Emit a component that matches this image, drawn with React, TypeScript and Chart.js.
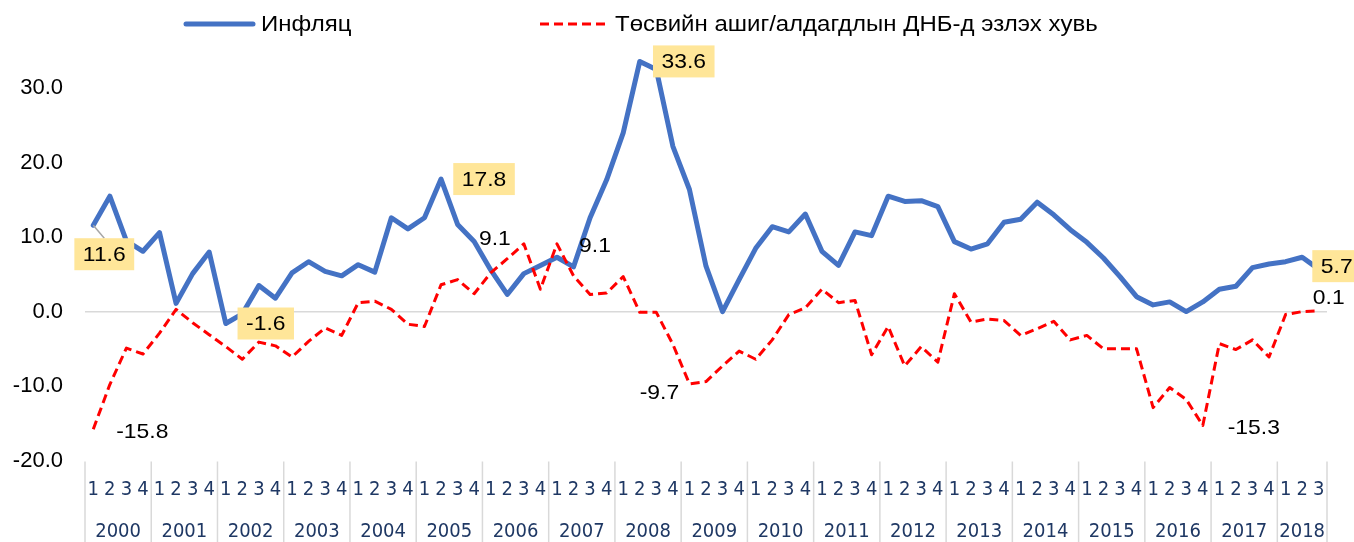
import React, { useEffect, useRef } from 'react';
import { Chart, registerables } from 'chart.js';

Chart.register(...registerables);

const YEARS = ['2000','2001','2002','2003','2004','2005','2006','2007','2008','2009','2010','2011','2012','2013','2014','2015','2016','2017','2018'];
const QUARTERS_PER_YEAR = [4,4,4,4,4,4,4,4,4,4,4,4,4,4,4,4,4,4,3];
const QUARTER_NAMES = ['1','2','3','4'];

const INFLATION = [
  11.6, 15.5, 9.5, 8.1, 10.6, 1.1, 5.1, 8.0, -1.6, -0.3, 3.5, 1.8,
  5.2, 6.7, 5.4, 4.8, 6.3, 5.3, 12.6, 11.1, 12.6, 17.8, 11.7, 9.4,
  5.6, 2.3, 5.1, 6.2, 7.3, 6.0, 12.6, 17.7, 24.0, 33.6, 32.5, 22.2,
  16.4, 6.1, 0.0, 4.3, 8.5, 11.4, 10.7, 13.1, 8.1, 6.2, 10.7, 10.2,
  15.5, 14.8, 14.9, 14.1, 9.4, 8.4, 9.1, 12.0, 12.4, 14.7, 13.0, 11.0,
  9.3, 7.2, 4.7, 2.0, 0.9, 1.3, 0.0, 1.3, 3.0, 3.4, 5.9, 6.4,
  6.7, 7.3, 5.7
];

const BUDGET = [
  -15.8, -9.8, -4.9, -5.7, -2.9, 0.3, -1.5, -3.1, -4.7, -6.4, -4.1, -4.6,
  -6.1, -4.0, -2.2, -3.2, 1.2, 1.4, 0.3, -1.7, -2.0, 3.6, 4.3, 2.4,
  5.2, 7.1, 9.1, 3.0, 9.1, 4.8, 2.3, 2.5, 4.7, -0.1, -0.1, -4.4,
  -9.7, -9.4, -7.3, -5.3, -6.4, -3.8, -0.4, 0.5, 3.0, 1.2, 1.5, -5.8,
  -2.0, -7.3, -4.7, -6.8, 2.4, -1.4, -1.0, -1.2, -3.2, -2.3, -1.3, -3.8,
  -3.2, -5.0, -5.0, -5.0, -12.9, -10.2, -11.8, -15.3, -4.3, -5.1, -3.8, -6.1,
  -0.4, 0.0, 0.1
];

const Y_TICKS = [-20, -10, 0, 10, 20, 30];
const LEGEND_INFLATION = 'Инфляц';
const LEGEND_BUDGET = 'Төсвийн ашиг/алдагдлын ДНБ-д эзлэх хувь';

// label annotations: point index + offset of the label centre from the point
const INFLATION_LABELS = [
  { i: 0, dx: 11, dy: 29, leader: true },
  { i: 8, dx: 40, dy: 0 },
  { i: 21, dx: 43, dy: 0 },
  { i: 33, dx: 44, dy: 0 },
  { i: 74, dx: 18, dy: -3 },
];
const BUDGET_LABELS = [
  { i: 0, dx: 49, dy: 2 },
  { i: 26, dx: -29, dy: -6 },
  { i: 28, dx: 38, dy: 1.5 },
  { i: 36, dx: -30, dy: 8 },
  { i: 67, dx: 51, dy: 1.5 },
  { i: 74, dx: 10, dy: -14 },
];

const BLUE = '#4472C4';
const RED = '#FF0000';
const NAVY = '#1f3864';
const TEXT_STRETCH = 1.09;
const LABEL_FONT = '21px "Liberation Sans", Arial, sans-serif';
const AXIS_FONT_FAMILY = '"DejaVu Sans Condensed", "DejaVu Sans", sans-serif';

const QUARTER_LABELS: string[] = [];
YEARS.forEach((y, yi) => {
  for (let q = 0; q < QUARTERS_PER_YEAR[yi]; q++) QUARTER_LABELS.push(QUARTER_NAMES[q]);
});

function stretchedText(ctx: CanvasRenderingContext2D, txt: string, x: number, y: number) {
  ctx.save();
  ctx.translate(x, y);
  ctx.scale(TEXT_STRETCH, 1);
  ctx.fillText(txt, 0, 0);
  ctx.restore();
}

const decorPlugin = {
  id: 'decor',
  afterDatasetsDraw(chart: any) {
    const ctx = chart.ctx;
    const xs = chart.scales.x;
    const h = chart.height;
    const half = (xs.getPixelForValue(1) - xs.getPixelForValue(0)) / 2;
    const axisTop = chart.chartArea.bottom;

    // year separators and year labels
    ctx.save();
    ctx.strokeStyle = '#d9d9d9';
    ctx.lineWidth = 1.5;
    let start = 0;
    const bounds: number[] = [];
    YEARS.forEach((y, yi) => {
      const n = QUARTERS_PER_YEAR[yi];
      const left = xs.getPixelForValue(start) - half;
      const right = xs.getPixelForValue(start + n - 1) + half;
      bounds.push(left);
      if (yi === YEARS.length - 1) bounds.push(right);
      ctx.fillStyle = NAVY;
      ctx.font = '20px ' + AXIS_FONT_FAMILY;
      ctx.textAlign = 'center';
      ctx.textBaseline = 'middle';
      ctx.fillText(y, (left + right) / 2, axisTop + 71);
      start += n;
    });
    bounds.forEach((bx) => {
      ctx.beginPath();
      ctx.moveTo(bx, axisTop + 1);
      ctx.lineTo(bx, h);
      ctx.stroke();
    });
    ctx.restore();

    // data labels
    const m0 = chart.getDatasetMeta(0);
    const m1 = chart.getDatasetMeta(1);
    ctx.save();
    ctx.font = LABEL_FONT;
    ctx.textAlign = 'center';
    ctx.textBaseline = 'middle';
    INFLATION_LABELS.forEach((l) => {
      const p = m0.data[l.i];
      const txt = INFLATION[l.i].toFixed(1);
      const w = ctx.measureText(txt).width * TEXT_STRETCH + 17;
      const bh = 32;
      const cx = p.x + l.dx;
      const cy = p.y + l.dy;
      if (l.leader) {
        ctx.strokeStyle = '#a6a6a6';
        ctx.lineWidth = 1.5;
        ctx.beginPath();
        ctx.moveTo(p.x, p.y);
        ctx.lineTo(p.x + 11, cy - bh / 2);
        ctx.stroke();
      }
      ctx.fillStyle = '#FFE699';
      ctx.fillRect(cx - w / 2, cy - bh / 2, w, bh);
      ctx.fillStyle = '#000';
      stretchedText(ctx, txt, cx, cy + 1);
    });
    BUDGET_LABELS.forEach((l) => {
      const p = m1.data[l.i];
      const txt = BUDGET[l.i].toFixed(1);
      ctx.fillStyle = '#000';
      stretchedText(ctx, txt, p.x + l.dx, p.y + l.dy + 1);
    });
    ctx.restore();

    // legend
    ctx.save();
    ctx.lineWidth = 5;
    ctx.lineCap = 'round';
    ctx.strokeStyle = BLUE;
    ctx.beginPath();
    ctx.moveTo(186, 24);
    ctx.lineTo(253, 24);
    ctx.stroke();
    ctx.lineWidth = 3;
    ctx.lineCap = 'butt';
    ctx.strokeStyle = RED;
    ctx.setLineDash([9, 5]);
    ctx.beginPath();
    ctx.moveTo(540, 24);
    ctx.lineTo(608, 24);
    ctx.stroke();
    ctx.setLineDash([]);
    ctx.fillStyle = '#000';
    ctx.font = '22px "Liberation Sans", Arial, sans-serif';
    ctx.textAlign = 'left';
    ctx.textBaseline = 'middle';
    stretchedText(ctx, LEGEND_INFLATION, 261, 25);
    stretchedText(ctx, LEGEND_BUDGET, 615, 25);
    ctx.restore();
  },
};

export default function App() {
  const ref = useRef<HTMLCanvasElement | null>(null);
  useEffect(() => {
    if (!ref.current) return;
    const chart = new Chart(ref.current, {
      type: 'line',
      data: {
        labels: QUARTER_LABELS,
        datasets: [
          {
            label: LEGEND_INFLATION,
            data: INFLATION,
            borderColor: BLUE,
            backgroundColor: BLUE,
            borderWidth: 5,
            borderJoinStyle: 'round',
            borderCapStyle: 'round',
            pointRadius: 0,
            tension: 0,
            order: 1,
          },
          {
            label: LEGEND_BUDGET,
            data: BUDGET,
            borderColor: RED,
            backgroundColor: RED,
            borderWidth: 3,
            borderDash: [9, 5],
            borderJoinStyle: 'round',
            pointRadius: 0,
            tension: 0,
            order: 0,
          },
        ],
      },
      options: {
        responsive: false,
        animation: false,
        events: [],
        layout: { padding: { top: 51, right: 27, left: 0, bottom: 0 } },
        plugins: { legend: { display: false }, tooltip: { enabled: false } },
        scales: {
          x: {
            type: 'category',
            offset: true,
            grid: { display: false, drawTicks: false },
            border: { display: false },
            ticks: {
              color: NAVY,
              font: { family: AXIS_FONT_FAMILY, size: 20 },
              padding: 17.5,
              maxRotation: 0,
              minRotation: 0,
              autoSkip: false,
            },
            afterFit: (s: any) => { s.height = 81.5; },
          },
          y: {
            min: -20,
            max: 35,
            afterBuildTicks: (s: any) => { s.ticks = Y_TICKS.map((v) => ({ value: v })); },
            grid: {
              color: (c: any) => (c.tick && c.tick.value === 0 ? '#d9d9d9' : 'rgba(0,0,0,0)'),
              lineWidth: 1.5,
              drawTicks: false,
            },
            border: { display: false },
            ticks: {
              color: '#000',
              font: { family: '"Liberation Sans", Arial, sans-serif', size: 22 },
              padding: 22,
              callback: (v: any) => Number(v).toFixed(1),
            },
            afterFit: (s: any) => { s.width = 85; },
          },
        },
      },
      plugins: [decorPlugin],
    });
    return () => chart.destroy();
  }, []);
  return (
    <canvas
      ref={ref}
      width={1354}
      height={542}
      style={{ position: 'absolute', left: 0, top: 0, display: 'block' }}
    />
  );
}
